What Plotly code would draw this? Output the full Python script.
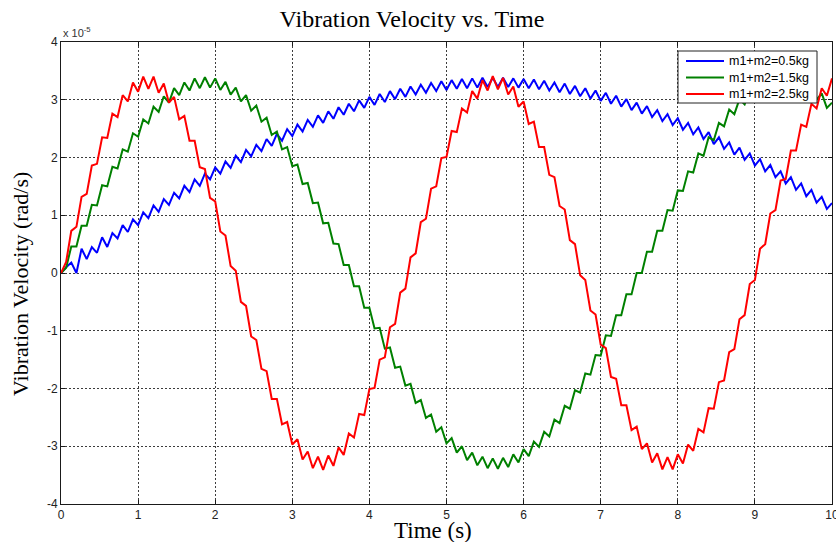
import plotly.graph_objects as go

# ---------------- data (velocity in units of 1e-5 rad/s) ----------------
SAMPLE_STEP_S = 1 / 15
time_s = [round(k * SAMPLE_STEP_S, 5) for k in range(151)]

series_names = ["m1+m2=0.5kg", "m1+m2=1.5kg", "m1+m2=2.5kg"]
series_colors = ["#0000FF", "#008000", "#FF0000"]

vel_m05 = [
    0, 0.10, 0.18, 0.00, 0.42, 0.24, 0.45, 0.35, 0.62, 0.45,
    0.69, 0.60, 0.83, 0.71, 0.93, 0.83, 1.05, 0.95, 1.17, 1.06,
    1.28, 1.18, 1.39, 1.29, 1.51, 1.40, 1.62, 1.51, 1.72, 1.62,
    1.83, 1.72, 1.93, 1.82, 2.03, 1.92, 2.13, 2.02, 2.22, 2.11,
    2.32, 2.20, 2.41, 2.29, 2.49, 2.37, 2.57, 2.45, 2.65, 2.53,
    2.73, 2.60, 2.80, 2.67, 2.87, 2.74, 2.93, 2.80, 2.99, 2.86,
    3.05, 2.91, 3.10, 2.96, 3.15, 3.01, 3.19, 3.05, 3.23, 3.09,
    3.26, 3.12, 3.29, 3.15, 3.32, 3.17, 3.34, 3.19, 3.36, 3.20,
    3.37, 3.21, 3.38, 3.22, 3.38, 3.22, 3.38, 3.22, 3.37, 3.21,
    3.36, 3.20, 3.35, 3.18, 3.33, 3.16, 3.30, 3.13, 3.28, 3.10,
    3.24, 3.06, 3.20, 3.02, 3.16, 2.98, 3.12, 2.93, 3.07, 2.88,
    3.01, 2.82, 2.95, 2.76, 2.89, 2.70, 2.82, 2.63, 2.75, 2.56,
    2.68, 2.48, 2.60, 2.40, 2.52, 2.32, 2.44, 2.23, 2.35, 2.15,
    2.26, 2.05, 2.17, 1.96, 2.07, 1.86, 1.97, 1.76, 1.87, 1.66,
    1.76, 1.55, 1.66, 1.44, 1.55, 1.33, 1.44, 1.22, 1.32, 1.11,
    1.21,
]

vel_m15 = [
    0, 0.09, 0.46, 0.46, 0.82, 0.82, 1.18, 1.17, 1.52, 1.50,
    1.84, 1.81, 2.14, 2.10, 2.42, 2.36, 2.66, 2.59, 2.88, 2.79,
    3.06, 2.95, 3.20, 3.08, 3.30, 3.16, 3.37, 3.20, 3.39, 3.21,
    3.37, 3.17, 3.31, 3.09, 3.21, 2.97, 3.08, 2.81, 2.90, 2.62,
    2.69, 2.39, 2.45, 2.14, 2.18, 1.85, 1.88, 1.54, 1.56, 1.21,
    1.22, 0.86, 0.87, 0.51, 0.50, 0.14, 0.14, -0.23, -0.23, -0.60,
    -0.60, -0.96, -0.95, -1.31, -1.29, -1.64, -1.62, -1.95, -1.92, -2.25,
    -2.20, -2.51, -2.45, -2.75, -2.67, -2.95, -2.86, -3.11, -3.00, -3.24,
    -3.11, -3.33, -3.18, -3.38, -3.21, -3.39, -3.20, -3.36, -3.14, -3.28,
    -3.05, -3.17, -2.92, -3.01, -2.75, -2.83, -2.54, -2.60, -2.30, -2.35,
    -2.03, -2.07, -1.74, -1.76, -1.42, -1.43, -1.08, -1.09, -0.73, -0.73,
    -0.37, -0.37, 0.00, 0.00, 0.37, 0.37, 0.73, 0.73, 1.09, 1.08,
    1.43, 1.42, 1.76, 1.74, 2.07, 2.03, 2.35, 2.30, 2.60, 2.54,
    2.83, 2.75, 3.01, 2.92, 3.17, 3.05, 3.28, 3.14, 3.36, 3.20,
    3.39, 3.21, 3.38, 3.18, 3.33, 3.11, 3.24, 3.00, 3.11, 2.86,
    2.95,
]

vel_m25 = [
    0, 0.19, 0.73, 0.80, 1.32, 1.37, 1.86, 1.89, 2.35, 2.34,
    2.76, 2.70, 3.08, 2.97, 3.30, 3.14, 3.40, 3.19, 3.40, 3.12,
    3.28, 2.95, 3.05, 2.66, 2.72, 2.29, 2.29, 1.83, 1.80, 1.30,
    1.24, 0.72, 0.65, 0.12, 0.04, -0.50, -0.57, -1.10, -1.16, -1.66,
    -1.70, -2.18, -2.18, -2.62, -2.58, -2.97, -2.88, -3.23, -3.09, -3.38,
    -3.18, -3.41, -3.16, -3.34, -3.02, -3.15, -2.78, -2.85, -2.44, -2.46,
    -2.01, -1.99, -1.50, -1.46, -0.94, -0.88, -0.34, -0.27, 0.27, 0.34,
    0.88, 0.94, 1.46, 1.50, 1.99, 2.01, 2.46, 2.44, 2.85, 2.78,
    3.15, 3.02, 3.34, 3.16, 3.41, 3.18, 3.38, 3.09, 3.23, 2.88,
    2.97, 2.58, 2.62, 2.18, 2.18, 1.70, 1.66, 1.16, 1.10, 0.57,
    0.50, -0.04, -0.12, -0.65, -0.72, -1.24, -1.30, -1.80, -1.83, -2.29,
    -2.29, -2.72, -2.66, -3.05, -2.95, -3.28, -3.12, -3.40, -3.19, -3.40,
    -3.14, -3.30, -2.97, -3.08, -2.70, -2.76, -2.34, -2.35, -1.89, -1.86,
    -1.37, -1.32, -0.80, -0.73, -0.19, -0.12, 0.42, 0.50, 1.03, 1.09,
    1.60, 1.63, 2.12, 2.12, 2.57, 2.53, 2.93, 2.85, 3.20, 3.07,
    3.37,
]

x_tick_vals = [0, 1, 2, 3, 4, 5, 6, 7, 8, 9, 10]
x_tick_text = ["0", "1", "2", "3", "4", "5", "6", "7", "8", "9", "10"]
y_tick_vals = [-4, -3, -2, -1, 0, 1, 2, 3, 4]
y_tick_text = ["-4", "-3", "-2", "-1", "0", "1", "2", "3", "4"]

# ---------------- layout helpers ----------------
SANS = "Liberation Sans, Arial, Helvetica, sans-serif"
SERIF = "Liberation Serif, Times New Roman, Times, serif"

W, H = 836, 542
PL, PR, PT, PB = 61, 832, 42, 504   # plot area in pixels


def px_x(px):
    return (px - PL) / (PR - PL)


def px_y(py):
    return (PB - py) / (PB - PT)


fig = go.Figure()
for name, vals, color in zip(series_names, [vel_m05, vel_m15, vel_m25], series_colors):
    fig.add_trace(go.Scatter(
        x=time_s, y=vals, mode="lines", name=name,
        line=dict(color=color, width=2), showlegend=False,
    ))

axis_common = dict(
    showline=True, linecolor="#1a1a1a", linewidth=1, mirror="allticks",
    ticks="inside", ticklen=4, tickcolor="#1a1a1a",
    showgrid=True, gridcolor="#3c3c3c", griddash="2px,2px", gridwidth=1,
    zeroline=False, automargin=False,
    tickfont=dict(family=SANS, size=12, color="#222222"),
)

# ---------------- legend (MATLAB-style box) ----------------
LEG_L, LEG_R, LEG_T, LEG_B = 678, 817, 51, 103
leg_rows = [61, 77.5, 94]
shapes = [dict(type="rect", xref="paper", yref="paper", layer="above",
               x0=px_x(LEG_L), x1=px_x(LEG_R), y0=px_y(LEG_B), y1=px_y(LEG_T),
               fillcolor="white", line=dict(color="#222222", width=1))]
annotations = []
for name, color, ry in zip(series_names, series_colors, leg_rows):
    shapes.append(dict(type="line", xref="paper", yref="paper", layer="above",
                       x0=px_x(686), x1=px_x(724), y0=px_y(ry), y1=px_y(ry),
                       line=dict(color=color, width=2)))
    annotations.append(dict(text=name, xref="paper", yref="paper",
                            x=px_x(727), y=px_y(ry), xanchor="left", yanchor="middle",
                            showarrow=False,
                            font=dict(family=SANS, size=12.5, color="black")))

annotations += [
    dict(text="x 10<sup>-5</sup>", xref="paper", yref="paper",
         x=0, y=1, xanchor="left", yanchor="bottom", yshift=1,
         showarrow=False, font=dict(family=SANS, size=11, color="#333333")),
    dict(text="Time (s)", xref="paper", yref="paper",
         x=px_x(432.5), y=px_y(530), xanchor="center", yanchor="middle",
         showarrow=False, font=dict(family=SERIF, size=23, color="black")),
    dict(text="Vibration Velocity (rad/s)", xref="paper", yref="paper",
         x=px_x(20), y=px_y(284), xanchor="center", yanchor="middle",
         textangle=-90, showarrow=False,
         font=dict(family=SERIF, size=22, color="black")),
]

fig.update_layout(
    width=W, height=H,
    margin=dict(l=PL, r=W - PR, t=PT, b=H - PB, autoexpand=False),
    paper_bgcolor="white", plot_bgcolor="white",
    title=dict(
        text="Vibration Velocity vs. Time",
        x=412 / W, xanchor="center",
        y=1 - 19 / H, yanchor="middle",
        font=dict(family=SERIF, size=24, color="black"),
    ),
    xaxis=dict(range=[0, 10], tickmode="array", tickvals=x_tick_vals,
               ticktext=x_tick_text, ticklabeloverflow="allow", **axis_common),
    yaxis=dict(range=[-4, 4], tickmode="array", tickvals=y_tick_vals,
               ticktext=y_tick_text, **axis_common),
    showlegend=False,
    shapes=shapes,
    annotations=annotations,
)

fig.write_html("out.html")
